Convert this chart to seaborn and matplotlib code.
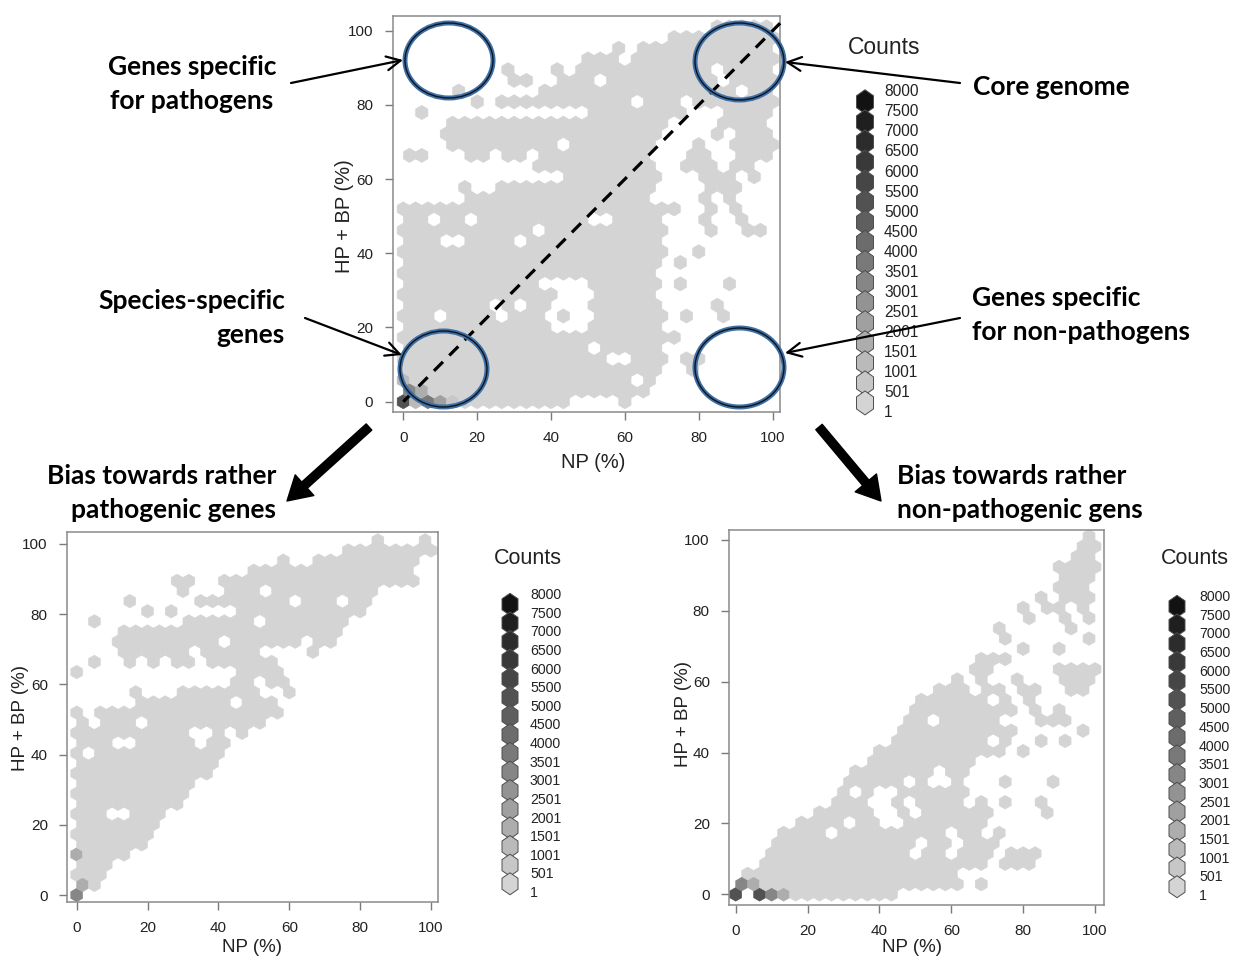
import numpy as np
import pandas as pd
import matplotlib
matplotlib.use("Agg")
import matplotlib.pyplot as plt
import seaborn as sns
from matplotlib.colors import ListedColormap, BoundaryNorm
from matplotlib.patches import Ellipse, FancyArrowPatch, Polygon

sns.set_theme(style="white")
plt.rcParams["font.family"] = ["Liberation Sans", "DejaVu Sans"]

# ---------------------------------------------------------------- data
COUNT_BREAKS = [1, 501, 1001, 1501, 2001, 2501, 3001, 3501, 4000, 4500,
                5000, 5500, 6000, 6500, 7000, 7500, 8000]
AXIS_TICKS = [0, 20, 40, 60, 80, 100]
X_LABEL = "NP (%)"
Y_LABEL = "HP + BP (%)"
BASE_COUNT = 120          # ordinary occupied hexagon (lowest count class)

# occupied hexagons per grid row (row 0 = HP+BP 0 %), listed as column ranges
ALL_GENES = {
    35: "25-29", 34: "22-30", 33: "17 19-29", 32: "15-17 19-30",
    31: "8 12 14-24 26-29", 30: "9-10 13-15 17-25 27-30",
    29: "4 11-26 28-29", 28: "6 8-18 20-22 24-30", 27: "1 15-22 26-29",
    26: "4-21 26-29", 25: "3-20 25 27-29", 24: "4-12 14-20 24 27-30",
    23: "0-1 5-6 8-9 11-19 23-24 27-29", 22: "11-20 23-25 27-28",
    21: "13-20 24-26 28", 20: "5 8-20 25-27", 19: "5-19 24 26",
    18: "0-22 25 27", 17: "0-1 3-4 6-14 17-20 24 27",
    16: "0-10 12-21 25 28-29", 15: "0-2 5-8 10-20", 14: "0-21 24",
    13: "0-20 22", 12: "0-20", 11: "0-10 15-20 22 26", 10: "0-12 16-20",
    9: "0-6 8 10-11 15-20 25", 8: "0-2 4-7 9-11 13 16-21 23 26",
    7: "0-11 15-20", 6: "0-22", 5: "0-14 16-20", 4: "0-16 19-21 23-24",
    3: "0-20 23", 2: "0-18 20", 1: "0-19", 0: "0-13 18",
}
ALL_GENES_DENSE = {(0, 0): 5200, (0, 1): 1200, (0, 2): 3700, (0, 3): 2200,
                   (0, 4): 700, (1, 0): 3200, (1, 1): 1700, (2, 0): 1200}

PATHOGENIC_BIAS = {
    35: "25 29", 34: "23-30", 33: "17 20-28", 32: "15-28",
    31: "8-9 12-28", 30: "9 13-15 17-25", 29: "4 10-17 19-21 23-24",
    28: "6 8 14-24", 27: "1 9-14 16-22", 26: "4-22", 25: "3-11 13-18 20-21",
    24: "4-9 11-15 20", 23: "1 4 6 8-9 11-16", 22: "0 14-17",
    21: "13-14 16-17", 20: "5 9-15 18", 19: "5-12 14-16", 18: "0 2-17",
    17: "0 2-4 6-15", 16: "0-9 12 14", 15: "0-2 5-9 11-12", 14: "0 2-12",
    13: "0-11", 12: "0-11", 11: "0-9", 10: "0-9", 9: "0-8", 8: "0-2 5-7",
    7: "0-6", 6: "0-6", 5: "0-5", 4: "0-4", 3: "0-2", 2: "0-2", 1: "0-1",
    0: "0",
}
PATHOGENIC_DENSE = {(0, 0): 3200, (1, 0): 1800, (4, 0): 1700}

NONPATHOGENIC_BIAS = {
    35: "29", 34: "29-30", 33: "28-29", 32: "27-30", 31: "27-29",
    30: "27-29", 29: "25 27-29", 28: "24 26-27 29", 27: "24 27 29",
    26: "22 28", 25: "22 29", 24: "24 27", 23: "20-22",
    22: "20-21 27-30", 21: "18 20 23 27-29",
    20: "17-19 21-22 24-25 28-29", 19: "15-20 22 24",
    18: "15-23 25 27", 17: "14-15 17-21 25-27", 16: "14-23 29",
    15: "13-20 22 25 27", 14: "12-22 24", 13: "11-19", 12: "10-16 18-19",
    11: "9-13 15 18 22 26", 10: "9 11 14-19",
    9: "8-10 13 15-18 20 22 25", 8: "7-11 14 16-21 26",
    7: "5-8 10-11 14-20", 6: "4-7 9-17 19-20 22",
    5: "3-14 16-17 19-21", 4: "3-14 16-17 19-21 23-25",
    3: "2-20 22-24", 2: "1-18", 1: "0-18 20", 0: "0 2-13",
}
NONPATHOGENIC_DENSE = {(0, 0): 5200, (0, 2): 5200, (0, 3): 3200,
                       (0, 4): 1700, (1, 0): 3200, (1, 1): 1700}

# ---------------------------------------------------------------- helpers
W_PX, H_PX = 1236, 963
HEX_W = 100 / 30                      # 30 hexagons across 0-100 %
ROW_H = HEX_W * np.sqrt(3) / 2        # vertical distance between hex rows

n_bins = len(COUNT_BREAKS) - 1
greys = np.linspace(0.83, 0.07, n_bins)
cmap = ListedColormap([(g, g, g) for g in greys])
norm = BoundaryNorm(COUNT_BREAKS, n_bins)


def cell_table(rows, dense):
    recs = []
    for r, spec in rows.items():
        for part in spec.split():
            lo, _, hi = part.partition("-")
            for i in range(int(lo), int(hi or lo) + 1):
                recs.append((HEX_W * (i + 0.5 * (r % 2)), ROW_H * r,
                             dense.get((r, i), BASE_COUNT)))
    return pd.DataFrame(recs, columns=["NP", "HPBP", "count"])


def px_rect(left, top, right, bottom):
    return [left / W_PX, 1 - bottom / H_PX, (right - left) / W_PX,
            (bottom - top) / H_PX]


def hex_panel(fig, rect, rows, dense, xlim, ylim):
    ax = fig.add_axes(px_rect(*rect))
    df = cell_table(rows, dense)
    ax.hexbin(df["NP"], df["HPBP"], C=df["count"], reduce_C_function=np.sum,
              gridsize=(30, 18), extent=(0, 100, 0, 36 * ROW_H),
              cmap=cmap, norm=norm, linewidths=0.4, edgecolors="face")
    ax.set_xlim(*xlim)
    ax.set_ylim(*ylim)
    ax.set_xticks(AXIS_TICKS)
    ax.set_yticks(AXIS_TICKS)
    for s in ax.spines.values():
        s.set_color("#8a8a8a")
        s.set_linewidth(1.1)
    ax.tick_params(direction="out", length=6, width=1.0, color="#7a7a7a",
                   labelsize=11, labelcolor="#222222", pad=8,
                   bottom=True, left=True, top=False, right=False)
    ax.set_xlabel("")
    ax.set_ylabel("")
    return ax


fig = plt.figure(figsize=(W_PX / 100, H_PX / 100), dpi=100)
fig.patch.set_facecolor("white")

ax_top = hex_panel(fig, (392.7, 16, 780, 411.7), ALL_GENES, ALL_GENES_DENSE,
                   (-2.87, 102.0), (-2.7, 103.96))
ax_bl = hex_panel(fig, (67.3, 531.7, 437.7, 901.7), PATHOGENIC_BIAS,
                  PATHOGENIC_DENSE, (-2.65, 101.9), (-1.9, 103.5))
ax_br = hex_panel(fig, (729.3, 530, 1104, 905), NONPATHOGENIC_BIAS,
                  NONPATHOGENIC_DENSE, (-1.78, 102.5), (-3.0, 102.8))

# identity line on the overview panel
ax_top.plot([0, 102.3], [0, 102.3], color="black", lw=2.3,
            ls=(0, (4, 2.8)), clip_on=False, zorder=5)

# ---------------------------------------------------------------- overlay
ov = fig.add_axes([0, 0, 1, 1], zorder=10)
ov.set_xlim(0, W_PX)
ov.set_ylim(H_PX, 0)
ov.axis("off")
ov.patch.set_alpha(0)

# axis titles
for (x, y), size in [((593, 463), 14.5), ((252, 948), 13.5), ((912, 948), 13.5)]:
    ov.text(x, y, X_LABEL, ha="center", va="center", fontsize=size, color="#222222")
for (x, y), size in [((344, 216), 14.5), ((21, 718), 13.5), ((684, 714), 13.5)]:
    ov.text(x, y, Y_LABEL, ha="center", va="center", rotation=90,
            fontsize=size, color="#222222")


def count_key(x_hex, x_text, y_top, step, title_xy, title_size, hex_w, hex_h,
              label_size):
    n = len(COUNT_BREAKS)
    label_y = y_top + step * np.arange(n)
    hex_y = label_y[:-1] + step / 2
    bin_vals = [0.5 * (COUNT_BREAKS[k] + COUNT_BREAKS[k + 1])
                for k in range(n - 1)][::-1]
    hw, hh = hex_w / 2, hex_h / 2
    for k in range(n - 1):
        cy = hex_y[k]
        verts = [(x_hex, cy - hh), (x_hex + hw, cy - hh / 2),
                 (x_hex + hw, cy + hh / 2), (x_hex, cy + hh),
                 (x_hex - hw, cy + hh / 2), (x_hex - hw, cy - hh / 2)]
        ov.add_patch(Polygon(verts, closed=True, fc=cmap(norm(bin_vals[k])),
                             ec="#4d4d4d", lw=0.7, zorder=3 + 0.01 * k))
    for yy, lab in zip(label_y, COUNT_BREAKS[::-1]):
        ov.text(x_text, yy, str(lab), ha="left", va="center",
                fontsize=label_size, color="#222222", zorder=5)
    ov.text(*title_xy, "Counts", ha="center", va="center",
            fontsize=title_size, color="#222222")


count_key(865, 884, 91.7, 20.08, (884, 47), 16.5, 17, 24, 11.2)
count_key(510, 530, 595, 18.63, (528, 559), 15.5, 16, 22, 10.2)
count_key(1177, 1199, 597, 18.69, (1195, 559), 15.5, 16, 22, 10.2)

# highlighted regions on the overview panel
for (cx, cy), w, h in [((449, 60.5), 88, 75), ((739.5, 61.5), 89, 77),
                       ((443.5, 369), 87, 76), ((739.5, 367.5), 89, 79)]:
    ov.add_patch(Ellipse((cx, cy), w, h, fill=False, ec="#3f6fa3", lw=3.6, zorder=4))
    ov.add_patch(Ellipse((cx, cy), w, h, fill=False, ec="#0b1422", lw=1.0, zorder=5))

# callouts
note = dict(fontsize=19, fontweight="bold", family=["Lato", "DejaVu Sans"],
            color="black", linespacing=1.5)
ov.text(192, 84, "Genes specific\nfor pathogens", ha="center", va="center",
        multialignment="center", **note)
ov.text(973, 87, "Core genome", ha="left", va="center", **note)
ov.text(285, 318, "Species-specific\ngenes", ha="right", va="center",
        multialignment="right", **note)
ov.text(972, 315, "Genes specific\nfor non-pathogens", ha="left", va="center",
        multialignment="left", **note)
ov.text(276, 493, "Bias towards rather\npathogenic genes", ha="right",
        va="center", multialignment="right", **note)
ov.text(897, 493, "Bias towards rather\nnon-pathogenic gens", ha="left",
        va="center", multialignment="left", **note)

for a, b in [((291, 83), (403, 60)), ((960, 83), (785, 62)),
             ((305, 318), (402, 355)), ((960, 318), (785, 353))]:
    ov.add_patch(FancyArrowPatch(a, b, arrowstyle="->,head_length=0.5,head_width=0.25",
                                 mutation_scale=20, lw=1.6, color="black",
                                 shrinkA=0, shrinkB=0, zorder=6))

for a, b in [((369, 427), (287, 501)), ((819, 427), (881, 501))]:
    ov.add_patch(FancyArrowPatch(a, b,
                                 arrowstyle="simple,head_length=0.85,head_width=1.0,tail_width=0.3",
                                 mutation_scale=20, color="black",
                                 shrinkA=0, shrinkB=0, zorder=6))

fig.savefig("out.png", dpi=100, facecolor="white")
